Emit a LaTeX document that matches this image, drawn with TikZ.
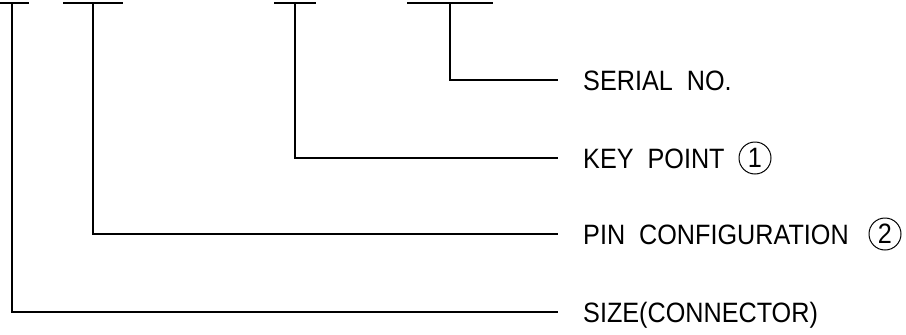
\documentclass[tikz,border=0pt]{standalone}
\usepackage{fontspec}
\newfontfamily\cadfont{Liberation Sans}[FakeStretch=0.9]
\tikzset{
  leader/.style={line width=1.3pt, line cap=rect},
  partlabel/.style={anchor=base west, inner sep=0pt, font=\cadfont\fontsize{28}{30}\selectfont},
  circnum/.style={circle, draw, line width=1pt, minimum size=32pt, inner sep=0pt, font=\cadfont\fontsize{28}{30}\selectfont}
}

\begin{document}
\begin{tikzpicture}[x=1pt,y=1pt,yscale=-1,xscale=1]
\useasboundingbox (0,0) rectangle (906,335);

%Top bars
\draw [leader] (0,3) -- (28,3) ;
\draw [leader] (64,3) -- (122,3) ;
\draw [leader] (275,3) -- (315,3) ;
\draw [leader] (408,3) -- (492,3) ;
\coordinate (sizetop) at (12,3) ;
\coordinate (pintop) at (93,3) ;
\coordinate (keytop) at (295,3) ;
\coordinate (serialtop) at (450,3) ;

% Text Node
\node [partlabel] (serial) at (583,90) {SERIAL~~NO.};
% Text Node
\node [partlabel] (keypt) at (583,168) {KEY~~POINT};
% Text Node
\node [partlabel] (pincfg) at (583,244) {PIN~~CONFIGURATION};
% Text Node
\node [partlabel] (size) at (583,322) {SIZE(CONNECTOR)};
% Circled numbers
\node [circnum] (one) at (755,158) {1};
\node [circnum] (two) at (885,234) {2};

% Connection
\draw [leader] (serialtop) |- ([xshift=-26pt,yshift=-10pt]serial.base west) ;
% Connection
\draw [leader] (keytop) |- ([xshift=-26pt,yshift=-10pt]keypt.base west) ;
% Connection
\draw [leader] (pintop) |- ([xshift=-26pt,yshift=-10pt]pincfg.base west) ;
% Connection
\draw [leader] (sizetop) |- ([xshift=-26pt,yshift=-10pt]size.base west) ;

\end{tikzpicture}
\end{document}
